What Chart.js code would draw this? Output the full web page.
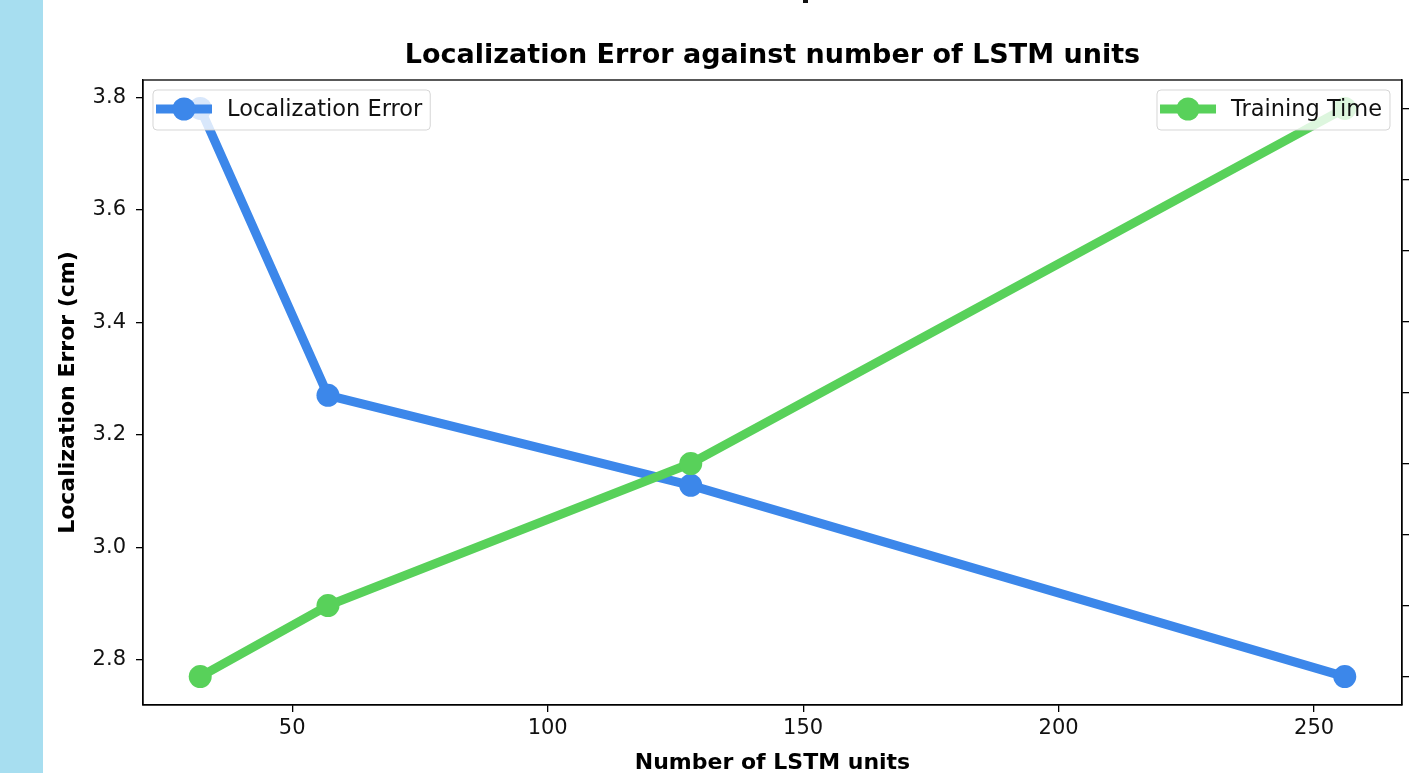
<!DOCTYPE html>
<html>
<head>
<meta charset="utf-8">
<script src="https://cdn.jsdelivr.net/npm/chart.js@4.4.0/dist/chart.umd.min.js"></script>
<style>
  html, body { margin: 0; padding: 0; background: #fff; overflow: hidden; }
  #wrap { position: relative; width: 1410px; height: 773px; }
  #strip { position: absolute; left: 0; top: 0; width: 43px; height: 773px; background: #a7def0; }
  #mark { position: absolute; left: 803px; top: 0; width: 5px; height: 3px; background: #111; }
  canvas { position: absolute; left: 0; top: 0; }
</style>
</head>
<body>
<div id="wrap">
  <canvas id="chart" width="1410" height="773"></canvas>
  <div id="strip"></div>
  <div id="mark"></div>
</div>
<script>
// values
const units = [32, 57, 128, 256]
const locError = [3.78, 3.27, 3.11, 2.77]
const trainTime = [100, 150, 250, 500]   // right axis labels are cut off in the source
const xTicks = [50, 100, 150, 200, 250]
const yTicks = [2.8, 3.0, 3.2, 3.4, 3.6, 3.8]
const y2Ticks = [100, 150, 200, 250, 300, 350, 400, 450, 500]

const titleText = 'Localization Error against number of LSTM units'
const blue = '#3c87ea'
const green = '#58d15a'
const font = 'DejaVu Sans'

// matplotlib style 5% margins
function padded(vals) {
    const lo = Math.min(...vals), hi = Math.max(...vals)
    const m = (hi - lo) * 0.05
    return { min: lo - m, max: hi + m }
}

function points(ys) {
    return units.map((u, i) => ({ x: u, y: ys[i] }))
}

const axisGrid = { drawOnChartArea: false, drawTicks: true, tickLength: 7, color: '#000', lineWidth: 1.3 }
const axisBorder = { display: true, color: '#000', width: 1.3 }

// legends sit inside the plot, drawn over the lines like matplotlib's
const insideLegends = {
    id: 'insideLegends',
    afterDatasetsDraw(chart) {
        const ctx = chart.ctx
        const a = chart.chartArea
        ctx.save()
        ctx.font = '22.5px "' + font + '"'
        const items = [
            { label: 'Localization Error', color: blue, side: 'left' },
            { label: 'Training Time', color: green, side: 'right' }
        ]
        items.forEach(it => {
            const tw = ctx.measureText(it.label).width
            const w = 74 + tw + 8
            const h = 40
            const x = it.side === 'left' ? a.left + 10 : a.right - 12 - w
            const y = a.top + 10
            ctx.beginPath()
            ctx.roundRect(x, y, w, h, 4)
            ctx.fillStyle = 'rgba(255,255,255,0.8)'
            ctx.fill()
            ctx.strokeStyle = 'rgba(204,204,204,0.8)'
            ctx.lineWidth = 1
            ctx.stroke()
            const cy = y + h / 2 - 1
            ctx.beginPath()
            ctx.moveTo(x + 3, cy)
            ctx.lineTo(x + 59, cy)
            ctx.strokeStyle = it.color
            ctx.lineWidth = 9
            ctx.stroke()
            ctx.beginPath()
            ctx.arc(x + 31, cy, 11.5, 0, Math.PI * 2)
            ctx.fillStyle = it.color
            ctx.fill()
            ctx.fillStyle = '#111'
            ctx.textBaseline = 'middle'
            ctx.fillText(it.label, x + 74, cy + 1)
        })
        ctx.restore()
    },
    afterDraw(chart) {
        const ctx = chart.ctx
        const a = chart.chartArea
        ctx.save()
        ctx.strokeStyle = '#000'
        ctx.lineWidth = 1.3
        ctx.strokeRect(a.left, a.top, a.right - a.left, a.bottom - a.top)
        // title centred over the plot area, as matplotlib does
        ctx.font = 'bold 27px "' + font + '"'
        ctx.fillStyle = '#000'
        ctx.textAlign = 'center'
        ctx.textBaseline = 'middle'
        ctx.fillText(titleText, (a.left + a.right) / 2, 56)
        ctx.restore()
    }
}

const xr = padded(units)
const yr = padded(locError)
const y2r = padded(trainTime)

new Chart(document.getElementById('chart'), {
    type: 'line',
    data: {
        datasets: [
            {
                label: 'Localization Error',
                data: points(locError),
                yAxisID: 'y',
                borderColor: blue,
                backgroundColor: blue,
                borderWidth: 9,
                pointRadius: 11.5,
                pointHoverRadius: 11.5,
                pointBorderWidth: 0,
                tension: 0,
                order: 1
            },
            {
                label: 'Training Time',
                data: points(trainTime),
                yAxisID: 'y2',
                borderColor: green,
                backgroundColor: green,
                borderWidth: 9,
                pointRadius: 11.5,
                pointHoverRadius: 11.5,
                pointBorderWidth: 0,
                tension: 0,
                order: 0
            }
        ]
    },
    options: {
        responsive: false,
        animation: false,
        events: [],
        layout: { autoPadding: false, padding: { top: 80, left: 0, right: 0, bottom: 0 } },
        plugins: {
            legend: { display: false },
            tooltip: { enabled: false },
            title: { display: false }
        },
        scales: {
            x: {
                type: 'linear',
                position: 'bottom',
                min: xr.min,
                max: xr.max,
                afterBuildTicks: s => { s.ticks = xTicks.map(v => ({ value: v })) },
                afterFit: s => { s.height = 68 },
                ticks: { color: '#111', font: { family: font, size: 21 }, padding: 4, maxRotation: 0 },
                grid: axisGrid,
                border: axisBorder,
                title: {
                    display: true,
                    text: 'Number of LSTM units',
                    color: '#000',
                    font: { family: font, size: 22, weight: 'bold', lineHeight: 1 },
                    padding: { top: 0, bottom: -1 }
                }
            },
            y: {
                position: 'left',
                min: yr.min,
                max: yr.max,
                afterBuildTicks: s => { s.ticks = yTicks.map(v => ({ value: v })) },
                afterFit: s => { s.width = 143 },
                ticks: {
                    color: '#111',
                    font: { family: font, size: 21 },
                    padding: 10,
                    callback: v => v.toFixed(1)
                },
                grid: axisGrid,
                border: axisBorder,
                title: {
                    display: true,
                    text: 'Localization Error (cm)',
                    color: '#000',
                    font: { family: font, size: 22, weight: 'bold' },
                    padding: { top: 55, bottom: 0 }
                }
            },
            y2: {
                position: 'right',
                min: y2r.min,
                max: y2r.max,
                afterBuildTicks: s => { s.ticks = y2Ticks.map(v => ({ value: v })) },
                afterFit: s => { s.width = 8 },
                ticks: { display: false },
                grid: axisGrid,
                border: axisBorder
            }
        }
    },
    plugins: [insideLegends]
})
</script>
</body>
</html>
